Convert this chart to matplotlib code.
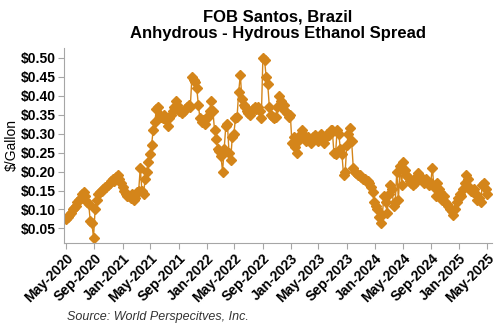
import matplotlib
matplotlib.use("Agg")
import matplotlib.pyplot as plt
import matplotlib.dates as mdates
import pandas as pd

plt.rcParams['font.family'] = ['Liberation Sans', 'DejaVu Sans']

# weekly spread, $/gallon, starting 2020-05-01 (13 weeks per row)
spread = [
    0.075, 0.08, 0.085, 0.09, 0.10, 0.105, 0.11, 0.12, 0.125, 0.13, 0.14, 0.145, 0.135,
    0.12, 0.115, 0.07, 0.065, 0.025, 0.10, 0.125, 0.14, 0.145, 0.15, 0.155, 0.16, 0.16,
    0.165, 0.17, 0.175, 0.18, 0.175, 0.185, 0.19, 0.18, 0.17, 0.16, 0.15, 0.14, 0.135,
    0.135, 0.13, 0.14, 0.125, 0.13, 0.145, 0.15, 0.21, 0.15, 0.14, 0.18, 0.20, 0.225,
    0.245, 0.27, 0.31, 0.33, 0.365, 0.37, 0.35, 0.345, 0.34, 0.35, 0.335, 0.32, 0.34,
    0.35, 0.36, 0.37, 0.385, 0.375, 0.36, 0.36, 0.355, 0.36, 0.365, 0.37, 0.375, 0.37,
    0.45, 0.44, 0.435, 0.42, 0.375, 0.34, 0.33, 0.335, 0.325, 0.34, 0.345, 0.36, 0.385,
    0.36, 0.31, 0.285, 0.26, 0.255, 0.24, 0.20, 0.26, 0.32, 0.325, 0.25, 0.23, 0.29,
    0.30, 0.34, 0.345, 0.41, 0.455, 0.39, 0.375, 0.37, 0.36, 0.355, 0.35, 0.36, 0.365,
    0.37, 0.365, 0.37, 0.36, 0.34, 0.50, 0.495, 0.45, 0.43, 0.37, 0.35, 0.345, 0.34,
    0.345, 0.37, 0.40, 0.385, 0.37, 0.375, 0.36, 0.355, 0.345, 0.35, 0.275, 0.29, 0.265,
    0.25, 0.28, 0.295, 0.31, 0.30, 0.29, 0.28, 0.29, 0.285, 0.275, 0.29, 0.295, 0.285,
    0.28, 0.29, 0.30, 0.285, 0.275, 0.29, 0.30, 0.295, 0.31, 0.31, 0.25, 0.245, 0.31,
    0.30, 0.26, 0.245, 0.19, 0.20, 0.27, 0.30, 0.315, 0.28, 0.21, 0.20, 0.195, 0.19,
    0.19, 0.185, 0.18, 0.18, 0.175, 0.175, 0.17, 0.16, 0.145, 0.12, 0.11, 0.10, 0.08,
    0.065, 0.085, 0.135, 0.12, 0.09, 0.14, 0.165, 0.155, 0.11, 0.12, 0.20, 0.125, 0.215,
    0.165, 0.225, 0.205, 0.19, 0.185, 0.175, 0.17, 0.165, 0.17, 0.185, 0.195, 0.19, 0.18,
    0.175, 0.17, 0.18, 0.175, 0.165, 0.17, 0.21, 0.16, 0.135, 0.17, 0.155, 0.145, 0.125,
    0.135, 0.12, 0.115, 0.11, 0.10, 0.095, 0.085, 0.10, 0.12, 0.13, 0.14, 0.135, 0.155,
    0.17, 0.19, 0.18, 0.16, 0.15, 0.145, 0.155, 0.14, 0.125, 0.13, 0.12, 0.165, 0.17,
    0.155, 0.14,
]
dates = pd.date_range('2020-05-01', periods=len(spread), freq='7D')

tick_dates = pd.date_range('2020-05-01', '2025-05-01', freq='4MS')
y_ticks = [0.05, 0.10, 0.15, 0.20, 0.25, 0.30, 0.35, 0.40, 0.45, 0.50]

color = '#D4851A'
gray = '#A6A6A6'

fig = plt.figure(figsize=(5, 3.3), dpi=100)
ax = fig.add_axes([0.128, 0.264, 0.856, 0.591])

ax.plot(dates, spread, color=color, lw=1.0, marker='D', ms=5.5, mec=color, mfc=color)

ax.set_ylim(0.012, 0.526)
ax.set_yticks(y_ticks)
ax.set_yticklabels(['$%.2f' % v for v in y_ticks], fontsize=10, fontweight='bold')
ax.set_xlim(pd.Timestamp('2020-04-22'), pd.Timestamp('2025-05-23'))
ax.set_xticks(tick_dates)
ax.xaxis.set_major_formatter(mdates.DateFormatter('%b-%Y'))
plt.setp(ax.get_xticklabels(), rotation=45, ha='right', rotation_mode='anchor',
         fontsize=10, fontweight='bold')

for s in ['top', 'right']:
    ax.spines[s].set_visible(False)
for s in ['left', 'bottom']:
    ax.spines[s].set_color(gray)
ax.tick_params(axis='both', direction='out', length=4, color=gray, pad=2)

ax.set_ylabel('$/Gallon', fontsize=10, labelpad=1)
ax.set_title('FOB Santos, Brazil\nAnhydrous - Hydrous Ethanol Spread',
             fontsize=12, fontweight='bold', pad=7, linespacing=1.1)

fig.text(0.134, 0.03, 'Source: World Perspecitves, Inc.', fontsize=9,
         style='italic', color='#333333')

fig.savefig('out.png', dpi=100)
